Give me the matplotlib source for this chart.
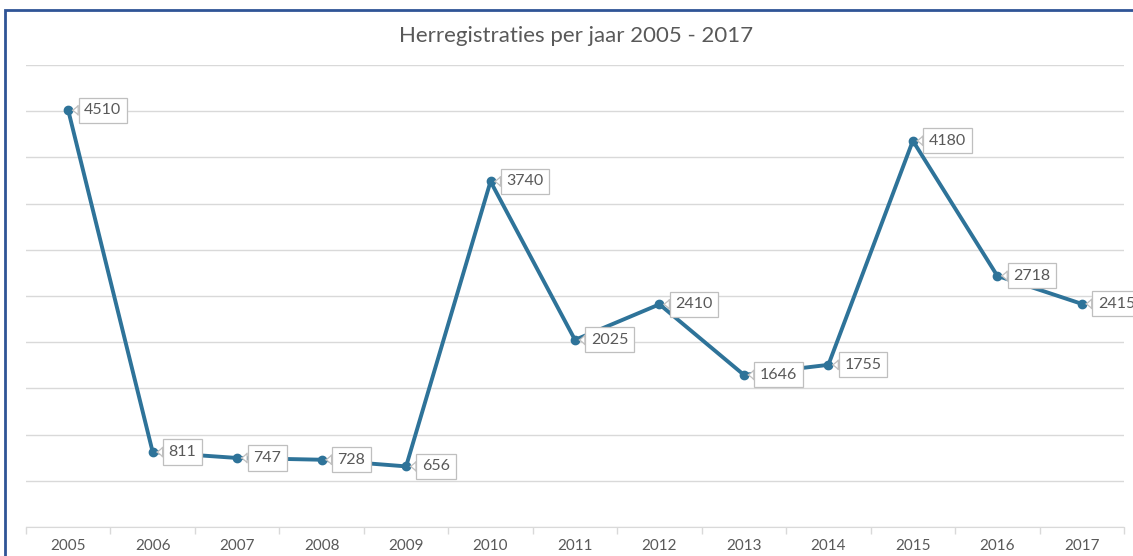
import matplotlib.pyplot as plt
from matplotlib.patches import Rectangle

# data
years = ["2005", "2006", "2007", "2008", "2009", "2010", "2011",
         "2012", "2013", "2014", "2015", "2016", "2017"]
counts = [4510, 811, 747, 728, 656, 3740, 2025, 2410, 1646, 1755, 4180, 2718, 2415]
title = "Herregistraties per jaar 2005 - 2017"

line_color = "#2E7399"
text_color = "#595959"
grid_color = "#D9D9D9"

plt.rcParams["font.family"] = ["Lato", "DejaVu Sans"]

fig = plt.figure(figsize=(11.33, 5.56), dpi=100)
ax = fig.add_axes([26 / 1133, 29 / 556, 1098 / 1133, 462 / 556])

x = list(range(len(years)))
ax.plot(x, counts, color=line_color, lw=2.8, marker="o", ms=6,
        solid_joinstyle="round", zorder=3)

for xi, v in zip(x, counts):
    ax.annotate(str(v), xy=(xi, v), xytext=(16, 0), textcoords="offset pixels",
                ha="left", va="center", fontsize=11.5, color=text_color,
                annotation_clip=False, zorder=4,
                bbox=dict(boxstyle="square,pad=0.35", fc="white", ec="#BFBFBF", lw=0.9),
                arrowprops=dict(arrowstyle="wedge,tail_width=0.6,shrink_factor=0.4",
                                fc="white", ec="#BFBFBF", lw=0.9,
                                shrinkA=0, shrinkB=3))

ax.set_xlim(-0.5, len(years) - 0.5)
ax.set_ylim(0, 5000)
ax.set_yticks(range(0, 5001, 500))
ax.yaxis.grid(True, color=grid_color, lw=1)
ax.set_axisbelow(True)
ax.tick_params(axis="y", left=False, labelleft=False)

ax.set_xticks(x)
ax.set_xticklabels(years, fontsize=11, color=text_color)
ax.set_xticks([i - 0.5 for i in range(len(years) + 1)], minor=True)
ax.tick_params(axis="x", which="major", length=0, pad=9)
ax.tick_params(axis="x", which="minor", length=5, color=grid_color, width=1)

for s in ["top", "right", "left"]:
    ax.spines[s].set_visible(False)
ax.spines["bottom"].set_color(grid_color)

fig.text(576 / 1133, 1 - 36 / 556, title, ha="center", va="center",
         fontsize=16, color=text_color)

# frame around the chart (cut off at right and bottom in the reference)
fig.add_artist(Rectangle((5 / 1133, -0.1), 2, 1 - 10 / 556 + 0.1,
                         transform=fig.transFigure, fill=False,
                         ec="#2F5496", lw=2))

fig.savefig("out.png", dpi=100)
